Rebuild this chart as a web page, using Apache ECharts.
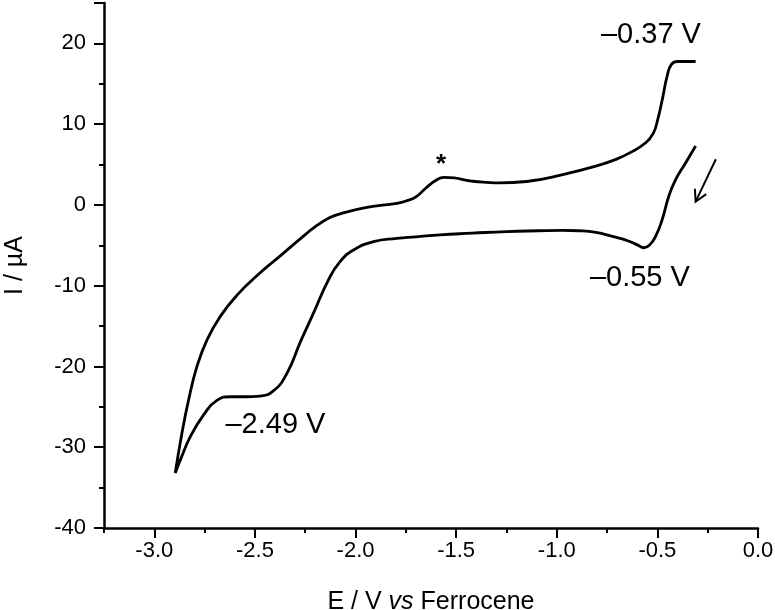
<!DOCTYPE html>
<html><head><meta charset="utf-8">
<script src="https://cdn.jsdelivr.net/npm/echarts@6/dist/echarts.min.js"></script>
<style>html,body{margin:0;padding:0;background:#fff}#c{width:775px;height:610px}</style>
</head><body><div id="c"></div>
<script>
// Reduction sweep (start at -0.31 V going negative), lower branch
var eCathodic = [-0.31,-0.36,-0.41,-0.443,-0.476,-0.509,-0.54,-0.567,-0.60,-0.641,-0.724,-0.806,-0.89,-0.97,-1.09,-1.25,-1.42,-1.58,-1.70,-1.795,-1.911,-2.01,-2.077,-2.135,-2.209,-2.273,-2.341,-2.407,-2.474,-2.55,-2.62,-2.689,-2.755,-2.821,-2.871,-2.896];
var iCathodic = [7.3,5.2,3.1,1.1,-1.8,-3.9,-5.0,-5.3,-4.95,-4.5,-3.9,-3.4,-3.2,-3.15,-3.2,-3.3,-3.5,-3.7,-3.95,-4.14,-4.55,-5.58,-7.03,-9.3,-13.4,-16.9,-20.85,-23.0,-23.66,-23.75,-23.75,-24.2,-26.0,-28.7,-31.6,-33.2];
// Return (oxidation) sweep, upper branch
var eAnodic = [-2.863,-2.83,-2.788,-2.738,-2.672,-2.59,-2.474,-2.374,-2.275,-2.2,-2.13,-2.077,-1.944,-1.795,-1.747,-1.70,-1.65,-1.60,-1.56,-1.51,-1.46,-1.417,-1.35,-1.285,-1.15,-0.97,-0.806,-0.70,-0.641,-0.558,-0.52,-0.50,-0.476,-0.451,-0.43,-0.40,-0.35,-0.31];
var iAnodic = [-28.3,-24.2,-20.0,-16.7,-13.8,-11.2,-8.4,-6.3,-4.2,-2.7,-1.6,-1.1,-0.3,0.2,0.5,1.0,2.1,3.05,3.4,3.35,3.1,2.93,2.8,2.73,2.9,3.75,4.8,5.7,6.4,7.7,8.9,10.4,13.0,16.0,17.4,17.76,17.76,17.76];
// x-axis labels and annotations
var xLabels = [-3.0,-2.5,-2.0,-1.5,-1.0,-0.5,0.0];
var annotText = ['\u20130.37 V','\u20130.55 V','\u20132.49 V','*'];
var annotE = [-0.532,-0.587,-2.398,-1.575];
var annotI = [21.0,-9.0,-27.2,5.0];
var arrowE = [-0.2095,-0.310];
var arrowI = [5.65,0.40];

var data = [];
for (var i=0;i<eCathodic.length;i++) data.push([eCathodic[i], iCathodic[i]]);
for (var j=0;j<eAnodic.length;j++) data.push([eAnodic[j], iAnodic[j]]);

var FONT = 'Liberation Sans';
var chart = echarts.init(document.getElementById('c'));
chart.setOption({
  animation:false,
  backgroundColor:'#fff',
  grid:{left:104,right:17,top:3,bottom:82,outerBoundsMode:'none',containLabel:false},
  xAxis:[{
    type:'value', min:-3.25, max:0, interval:0.25,
    axisLine:{show:true,onZero:false,lineStyle:{color:'#000',width:2.5}},
    axisTick:{show:true,length:5,lineStyle:{color:'#000',width:2}},
    axisLabel:{show:false},
    splitLine:{show:false},
    name:'E / V {i|vs} Ferrocene', nameLocation:'middle', nameGap:62,
    nameTextStyle:{color:'#000',fontFamily:FONT,fontSize:25,
      rich:{i:{fontStyle:'italic',fontFamily:FONT,fontSize:25,color:'#000'}}}
  },{
    type:'value', min:-3.25, max:0, interval:0.25, position:'bottom',
    axisLine:{show:false,onZero:false},
    axisTick:{show:true,length:10,customValues:xLabels,lineStyle:{color:'#000',width:2}},
    axisLabel:{show:true,customValues:xLabels,color:'#000',fontFamily:FONT,fontSize:22,margin:12,
      formatter:function(v){return v.toFixed(1);}},
    splitLine:{show:false}
  }],
  yAxis:{
    type:'value', min:-40, max:25, interval:10,
    axisLine:{show:true,onZero:false,lineStyle:{color:'#000',width:2.5}},
    axisTick:{show:true,length:10,lineStyle:{color:'#000',width:2}},
    minorTick:{show:true,splitNumber:2,length:5,lineStyle:{color:'#000',width:2}},
    axisLabel:{color:'#000',fontFamily:FONT,fontSize:22,margin:18,showMaxLabel:false},
    splitLine:{show:false},
    name:'I / \u00b5A', nameLocation:'middle', nameGap:76, nameRotate:90,
    nameTextStyle:{color:'#000',fontFamily:FONT,fontSize:25}
  },
  series:[{
    type:'line', data:data, smooth:0.5, showSymbol:false, symbol:'none',
    lineStyle:{color:'#000',width:2.8}, xAxisIndex:0
  }]
});
var gr = [];
annotText.forEach(function(t,k){
  var p = chart.convertToPixel({xAxisIndex:0,yAxisIndex:0},[annotE[k],annotI[k]]);
  gr.push({type:'text', x:p[0], y:p[1], style:{text:t, fill:'#000', font:(t==='*'?'bold 26px ':'29px ')+FONT, align:'center', verticalAlign:'middle'}});
});
var p0 = chart.convertToPixel({xAxisIndex:0,yAxisIndex:0},[arrowE[0],arrowI[0]]);
var p1 = chart.convertToPixel({xAxisIndex:0,yAxisIndex:0},[arrowE[1],arrowI[1]]);
var ang = Math.atan2(p1[1]-p0[1], p1[0]-p0[0]);
var hl = 13, ha = 0.5;
var w1 = [p1[0]-hl*Math.cos(ang-ha), p1[1]-hl*Math.sin(ang-ha)];
var w2 = [p1[0]-hl*Math.cos(ang+ha), p1[1]-hl*Math.sin(ang+ha)];
gr.push({type:'line', shape:{x1:p0[0],y1:p0[1],x2:p1[0],y2:p1[1]}, style:{stroke:'#000',lineWidth:2}});
gr.push({type:'polyline', shape:{points:[w1,p1,w2]}, style:{stroke:'#000',lineWidth:2,fill:null}});
chart.setOption({graphic:gr});
</script></body></html>
